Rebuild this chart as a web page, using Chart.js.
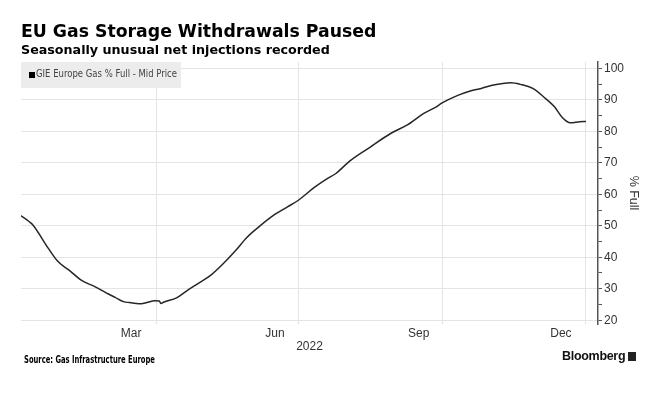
<!DOCTYPE html>
<html>
<head>
<meta charset="utf-8">
<script src="https://cdn.jsdelivr.net/npm/chart.js@4"></script>
<style>
  body { margin: 0; background: #fff; }
  #wrap { position: relative; width: 666px; height: 396px; overflow: hidden; background: #fff; }
  #myChart { position: absolute; left: 0; top: 0; }
  .txt { position: absolute; white-space: nowrap; color: #000; }
  #title { left: 21px; top: 21px; font: bold 17.3px "DejaVu Sans", sans-serif; }
  #subtitle { left: 21px; top: 42px; font: bold 12.7px "DejaVu Sans", sans-serif; }
  #legend { left: 21px; top: 62px; width: 160px; height: 26px; background: #ececec; }
  #legend span.box { position: absolute; left: 8px; top: 10px; width: 6px; height: 6px; background: #000; }
  #legend span.lab { position: absolute; left: 15px; top: 6px; font: 10px "DejaVu Sans", sans-serif; color: #444;
    transform: scaleX(0.85); transform-origin: 0 0; }
  #source { left: 24px; top: 354px; font: bold 9.7px "DejaVu Sans", sans-serif; transform: scaleX(0.7); transform-origin: 0 0; }
  #brand { left: 562px; top: 349px; font: bold 12.5px "Liberation Sans", sans-serif; letter-spacing: -0.3px; color: #111; }
  #brand i { display: inline-block; width: 8px; height: 9px; background: #222; margin-left: 3px; vertical-align: -1px; }
</style>
</head>
<body>
<div id="wrap">
  <canvas id="myChart" width="666" height="396"></canvas>
  <div class="txt" id="title">EU Gas Storage Withdrawals Paused</div>
  <div class="txt" id="subtitle">Seasonally unusual net injections recorded</div>
  <div class="txt" id="legend"><span class="box"></span><span class="lab">GIE Europe Gas % Full - Mid Price</span></div>
  <div class="txt" id="source">Source: Gas Infrastructure Europe</div>
  <div class="txt" id="brand">Bloomberg<i></i></div>
</div>
<script>
"use strict"

// GIE Europe Gas % Full
const dates = [
  '2022-01-04', '2022-01-10', '2022-01-12', '2022-01-22', '2022-01-28',
  '2022-02-05', '2022-02-12', '2022-02-21', '2022-02-28', '2022-03-06', '2022-03-11',
  '2022-03-15', '2022-03-21', '2022-03-26', '2022-03-31', '2022-04-03', '2022-04-04',
  '2022-04-06', '2022-04-14', '2022-04-21', '2022-04-29', '2022-05-06', '2022-05-14',
  '2022-05-22', '2022-05-29', '2022-06-07', '2022-06-15', '2022-06-24', '2022-07-01',
  '2022-07-11', '2022-07-19', '2022-07-25', '2022-08-03', '2022-08-16', '2022-08-29',
  '2022-09-09', '2022-09-19', '2022-09-27', '2022-10-01', '2022-10-11', '2022-10-19',
  '2022-10-26', '2022-11-02', '2022-11-14', '2022-11-20', '2022-11-28', '2022-12-05',
  '2022-12-12', '2022-12-17', '2022-12-22', '2022-12-28', '2023-01-01'
]
const pct_full = [
  53.3, 51.2, 50.3, 42.8, 38.7,
  35.6, 32.7, 30.6, 28.7, 27.2, 25.9,
  25.6, 25.2, 25.6, 26.2, 26.1, 25.3,
  25.8, 27.1, 29.5, 32.0, 34.3, 38.0,
  42.2, 46.3, 50.2, 53.3, 56.0, 58.1,
  62.1, 64.8, 66.6, 70.6, 75.0, 79.3,
  82.1, 85.6, 87.7, 89.0, 91.4, 92.8,
  93.6, 94.6, 95.4, 94.9, 93.6, 90.9,
  87.7, 84.3, 82.7, 83.0, 83.1
]

// month labels sit mid-month, grid lines at quarter boundaries
const month_labels = ['Mar', 'Jun', 'Sep', 'Dec']
const month_label_dates = ['2022-03-16', '2022-06-16', '2022-09-16', '2022-12-16']
const grid_dates = ['2022-04-01', '2022-07-01', '2022-10-01', '2023-01-01']
const year_label = '2022'
const y_ticks = [20, 25, 30, 35, 40, 45, 50, 55, 60, 65, 70, 75, 80, 85, 90, 95, 100]

const ctx = document.getElementById('myChart')

function day_of(s){
  return (Date.parse(s) - Date.parse('2022-01-01')) / 86400000
}

const x_min = 3.5
const x_max = 372.7
const tick_font = { family: "'Liberation Sans', sans-serif", size: 12, lineHeight: 1 }

let graph = new Chart(ctx, {
  type: 'line',
  data: {
    datasets: [
      {
        label: 'GIE Europe Gas % Full - Mid Price',
        data: dates.map((d, i) => ({ x: day_of(d), y: pct_full[i] })),
        borderColor: '#262626',
        borderWidth: 1.5,
        pointRadius: 0,
        cubicInterpolationMode: 'monotone',
        xAxisID: 'x',
        yAxisID: 'y',
      }
    ]
  },
  options: {
    responsive: false,
    animation: false,
    layout: {
      padding: { left: 21, top: 62, right: 19, bottom: 43 }
    },
    plugins: {
      legend: { display: false },
      tooltip: { enabled: false }
    },
    scales: {
      x: {
        type: 'linear',
        position: 'bottom',
        min: x_min,
        max: x_max,
        afterBuildTicks: (axis) => {
          axis.ticks = grid_dates.map(d => ({ value: day_of(d) }))
        },
        ticks: { display: false },
        grid: { color: '#e4e4e4', drawTicks: false },
        border: { display: false }
      },
      x2: {
        type: 'linear',
        position: 'bottom',
        min: x_min,
        max: x_max,
        afterBuildTicks: (axis) => {
          axis.ticks = month_label_dates.map(d => ({ value: day_of(d) }))
        },
        ticks: {
          autoSkip: false,
          maxRotation: 0,
          padding: -4,
          color: '#333',
          font: tick_font,
          callback: (v, i) => month_labels[i]
        },
        grid: { display: false },
        border: { display: false },
        title: {
          display: true,
          text: year_label,
          color: '#333',
          font: tick_font,
          padding: { top: 5, bottom: 0 }
        }
      },
      y: {
        type: 'linear',
        position: 'right',
        min: 18.8,
        max: 102,
        afterBuildTicks: (axis) => {
          axis.ticks = y_ticks.map(v => ({ value: v }))
        },
        ticks: {
          padding: 2,
          color: '#333',
          font: tick_font,
          callback: (v) => (v % 10 === 0 ? v : '')
        },
        grid: {
          color: (c) => (c.tick && c.tick.value % 10 === 0 ? '#e4e4e4' : 'rgba(0,0,0,0)'),
          tickColor: '#555',
          tickLength: 4
        },
        border: { display: true, color: '#555', width: 1.5 },
        title: {
          display: true,
          text: '% Full',
          color: '#333',
          font: { family: "'Liberation Sans', sans-serif", size: 12.5 },
          padding: { top: 6, bottom: 0 }
        }
      }
    }
  }
})
</script>
</body>
</html>
